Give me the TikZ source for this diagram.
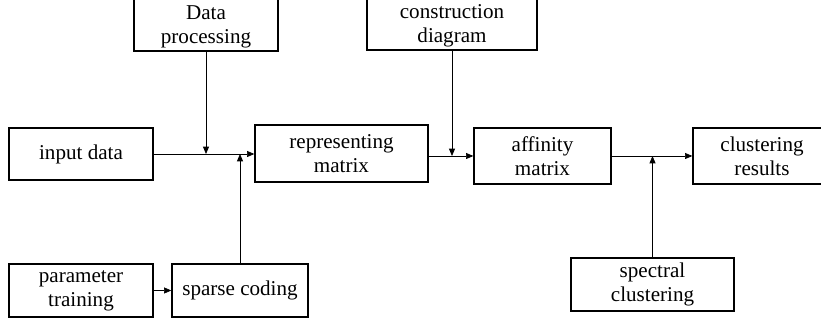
\documentclass[tikz,border=0pt]{standalone}
\usepackage{fontspec}
\setmainfont{Liberation Serif}
\usetikzlibrary{arrows.meta}
\begin{document}
\begin{tikzpicture}[x=0.3mm, y=-0.3mm,
        box/.style={draw, line width=1.1pt, align=center, inner sep=0pt,
            font=\fontsize{18}{20.5}\selectfont},
        arr/.style={line width=0.6pt, -{Triangle[length=2.2mm, width=1.8mm]}}]
    \useasboundingbox (0,0) rectangle (821,320);

    \node[box, minimum width=144*0.3mm, minimum height=60*0.3mm] (dataproc) at (206,21) {\rule{0pt}{21pt}Data\\processing};
    \node[box, minimum width=170*0.3mm, minimum height=60*0.3mm] (constr) at (452,20) {\rule{0pt}{21pt}construction\\diagram};
    \node[box, minimum width=144*0.3mm, minimum height=52*0.3mm] (input) at (81,154) {input data};
    \node[box, minimum width=173*0.3mm, minimum height=57*0.3mm] (repmat) at (341.5,153.5) {representing\\matrix};
    \node[box, minimum width=137*0.3mm, minimum height=56*0.3mm] (affin) at (542.5,156) {affinity\\matrix};
    \node[box, minimum width=138*0.3mm, minimum height=56*0.3mm] (clusres) at (762,156) {clustering\\results};
    \node[box, minimum width=144*0.3mm, minimum height=53*0.3mm] (param) at (81,290.5) {parameter\\training};
    \node[box, minimum width=136*0.3mm, minimum height=53*0.3mm] (sparse) at (240,290.5) {sparse coding};
    \node[box, minimum width=163*0.3mm, minimum height=53*0.3mm] (spectral) at (652.5,284.5) {spectral\\clustering};

    \coordinate (j1) at (dataproc.south |- input.east);
    \coordinate (j2) at (sparse.north |- input.east);
    \coordinate (j3) at (constr.south |- affin.west);
    \coordinate (j4) at (spectral.north |- affin.east);

    \draw [arr] (input.east) -- (input.east -| repmat.west);
    \draw [arr] (dataproc.south) -- (j1);
    \draw [arr] (sparse.north) -- (j2);
    \draw [arr] (param) -- (sparse);
    \draw [arr] (repmat.east |- affin.west) -- (affin.west);
    \draw [arr] (constr.south) -- (j3);
    \draw [arr] (affin.east) -- (clusres.west);
    \draw [arr] (spectral.north) -- (j4);
\end{tikzpicture}
\end{document}
